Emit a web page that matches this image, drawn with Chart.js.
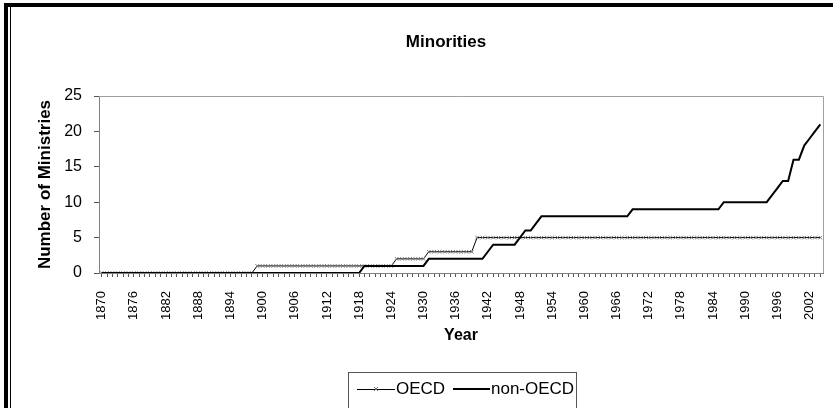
<!DOCTYPE html>
<html>
<head>
<meta charset="utf-8">
<script src="https://cdn.jsdelivr.net/npm/chart.js@4.4.1/dist/chart.umd.min.js"></script>
<style>
  html, body { margin: 0; padding: 0; background: #fff; }
  #wrap { position: relative; width: 833px; height: 408px; overflow: hidden; }
  #grafico { position: absolute; left: 0; top: 0; }
  .marco-top { position: absolute; left: 4px; top: 3px; width: 829px; height: 4px; background: #000; }
  .marco-left { position: absolute; left: 4px; top: 3px; width: 4px; height: 405px; background: #000; }
  .marco-left2 { position: absolute; left: 10px; top: 7px; width: 1px; height: 401px; background: #000; }
</style>
</head>
<body>
<div id="wrap">
  <canvas id="grafico" width="833" height="408"></canvas>
  <div class="marco-top"></div>
  <div class="marco-left"></div>
  <div class="marco-left2"></div>
</div>
<script>
// anios 1870 - 2004
const years = [
  1870, 1871, 1872, 1873, 1874, 1875, 1876, 1877, 1878, 1879,
  1880, 1881, 1882, 1883, 1884, 1885, 1886, 1887, 1888, 1889,
  1890, 1891, 1892, 1893, 1894, 1895, 1896, 1897, 1898, 1899,
  1900, 1901, 1902, 1903, 1904, 1905, 1906, 1907, 1908, 1909,
  1910, 1911, 1912, 1913, 1914, 1915, 1916, 1917, 1918, 1919,
  1920, 1921, 1922, 1923, 1924, 1925, 1926, 1927, 1928, 1929,
  1930, 1931, 1932, 1933, 1934, 1935, 1936, 1937, 1938, 1939,
  1940, 1941, 1942, 1943, 1944, 1945, 1946, 1947, 1948, 1949,
  1950, 1951, 1952, 1953, 1954, 1955, 1956, 1957, 1958, 1959,
  1960, 1961, 1962, 1963, 1964, 1965, 1966, 1967, 1968, 1969,
  1970, 1971, 1972, 1973, 1974, 1975, 1976, 1977, 1978, 1979,
  1980, 1981, 1982, 1983, 1984, 1985, 1986, 1987, 1988, 1989,
  1990, 1991, 1992, 1993, 1994, 1995, 1996, 1997, 1998, 1999,
  2000, 2001, 2002, 2003, 2004,
];

const oecd = [
  0, 0, 0, 0, 0, 0, 0, 0, 0, 0,
  0, 0, 0, 0, 0, 0, 0, 0, 0, 0,
  0, 0, 0, 0, 0, 0, 0, 0, 0, 1,
  1, 1, 1, 1, 1, 1, 1, 1, 1, 1,
  1, 1, 1, 1, 1, 1, 1, 1, 1, 1,
  1, 1, 1, 1, 1, 2, 2, 2, 2, 2,
  2, 3, 3, 3, 3, 3, 3, 3, 3, 3,
  5, 5, 5, 5, 5, 5, 5, 5, 5, 5,
  5, 5, 5, 5, 5, 5, 5, 5, 5, 5,
  5, 5, 5, 5, 5, 5, 5, 5, 5, 5,
  5, 5, 5, 5, 5, 5, 5, 5, 5, 5,
  5, 5, 5, 5, 5, 5, 5, 5, 5, 5,
  5, 5, 5, 5, 5, 5, 5, 5, 5, 5,
  5, 5, 5, 5, 5,
];

const nonOecd = [
  0, 0, 0, 0, 0, 0, 0, 0, 0, 0,
  0, 0, 0, 0, 0, 0, 0, 0, 0, 0,
  0, 0, 0, 0, 0, 0, 0, 0, 0, 0,
  0, 0, 0, 0, 0, 0, 0, 0, 0, 0,
  0, 0, 0, 0, 0, 0, 0, 0, 0, 1,
  1, 1, 1, 1, 1, 1, 1, 1, 1, 1,
  1, 2, 2, 2, 2, 2, 2, 2, 2, 2,
  2, 2, 3, 4, 4, 4, 4, 4, 5, 6,
  6, 7, 8, 8, 8, 8, 8, 8, 8, 8,
  8, 8, 8, 8, 8, 8, 8, 8, 8, 9,
  9, 9, 9, 9, 9, 9, 9, 9, 9, 9,
  9, 9, 9, 9, 9, 9, 10, 10, 10, 10,
  10, 10, 10, 10, 10, 11, 12, 13, 13, 16,
  16, 18, 19, 20, 21,
];

const yTicks = [0, 5, 10, 15, 20, 25];
const labelStep = 6; // un rotulo cada 6 anios

const fuente = "'Liberation Sans', Arial, sans-serif";

/******************************************************************
 * Plugin para el titulo, borde del grafico y la leyenda
 ******************************************************************/
const decoracion = {
  id: "decoracion",
  afterDraw(chart) {
    const { ctx, chartArea } = chart;
    ctx.save();
    // borde superior y derecho del area
    ctx.strokeStyle = "#a0a0a0";
    ctx.lineWidth = 1;
    ctx.beginPath();
    ctx.moveTo(chartArea.left, chartArea.top + 0.5);
    ctx.lineTo(chartArea.right + 0.5, chartArea.top + 0.5);
    ctx.lineTo(chartArea.right + 0.5, chartArea.bottom);
    ctx.stroke();

    // titulo
    ctx.fillStyle = "#000";
    ctx.font = "bold 17px " + fuente;
    ctx.textAlign = "center";
    ctx.textBaseline = "middle";
    ctx.fillText("Minorities", 446, 42);

    // leyenda
    ctx.strokeStyle = "#555";
    ctx.strokeRect(348.5, 372.5, 228, 50);
    const yl = 389;
    ctx.strokeStyle = "#000";
    ctx.beginPath();
    ctx.moveTo(357, yl + 0.5);
    ctx.lineTo(395, yl + 0.5);
    ctx.stroke();
    ctx.strokeStyle = "#666";
    ctx.beginPath();
    ctx.moveTo(374, yl - 2);
    ctx.lineTo(378, yl + 2);
    ctx.moveTo(378, yl - 2);
    ctx.lineTo(374, yl + 2);
    ctx.stroke();
    ctx.strokeStyle = "#000";
    ctx.lineWidth = 2;
    ctx.beginPath();
    ctx.moveTo(453, yl);
    ctx.lineTo(490, yl);
    ctx.stroke();
    ctx.font = "17px " + fuente;
    ctx.textAlign = "left";
    ctx.fillText("OECD", 396, yl);
    ctx.fillText("non-OECD", 491, yl);
    ctx.restore();
  },
};

const ctx = document.getElementById("grafico");

new Chart(ctx, {
  type: "line",
  data: {
    labels: years.map(String),
    datasets: [
      {
        label: "non-OECD",
        data: nonOecd,
        borderColor: "#000",
        borderWidth: 2,
        pointRadius: 0,
        tension: 0,
      },
      {
        label: "OECD",
        data: oecd,
        borderColor: "#000",
        borderWidth: 1,
        pointStyle: "crossRot",
        pointRadius: 2.5,
        pointBorderColor: "#777",
        pointBorderWidth: 1,
        tension: 0,
      },
    ],
  },
  options: {
    responsive: false,
    animation: false,
    events: [],
    layout: { padding: { top: 96, right: 10, left: 0, bottom: 0 } },
    plugins: {
      legend: { display: false },
      title: { display: false },
      tooltip: { enabled: false },
    },
    scales: {
      x: {
        offset: true,
        grid: {
          offset: false,
          drawOnChartArea: false,
          tickLength: 4,
          color: "#555",
        },
        border: { color: "#808080" },
        ticks: {
          autoSkip: false,
          maxRotation: 90,
          minRotation: 90,
          padding: 14,
          color: "#000",
          font: { family: fuente, size: 13 },
          callback: (val, i) =>
            (years[i] - years[0]) % labelStep === 0 ? String(years[i]) : "",
        },
        title: {
          display: true,
          text: "Year",
          color: "#000",
          font: { family: fuente, size: 16, weight: "bold" },
          padding: { top: 0, bottom: 63 },
        },
        afterFit: (scale) => {
          scale.height = 135;
          scale.paddingLeft = 0;
          scale.paddingRight = 0;
        },
      },
      y: {
        min: 0,
        max: 25,
        afterBuildTicks: (scale) => {
          scale.ticks = yTicks.map((v) => ({ value: v }));
        },
        grid: {
          drawOnChartArea: false,
          tickLength: 5,
          color: "#555",
        },
        border: { color: "#808080" },
        ticks: {
          padding: 12,
          color: "#000",
          font: { family: fuente, size: 16 },
        },
        title: {
          display: true,
          text: "Number of Ministries",
          color: "#000",
          font: { family: fuente, size: 17, weight: "bold" },
          padding: { top: 35, bottom: 0 },
        },
        afterFit: (scale) => {
          scale.width = 99;
        },
      },
    },
  },
  plugins: [decoracion],
});
</script>
</body>
</html>
